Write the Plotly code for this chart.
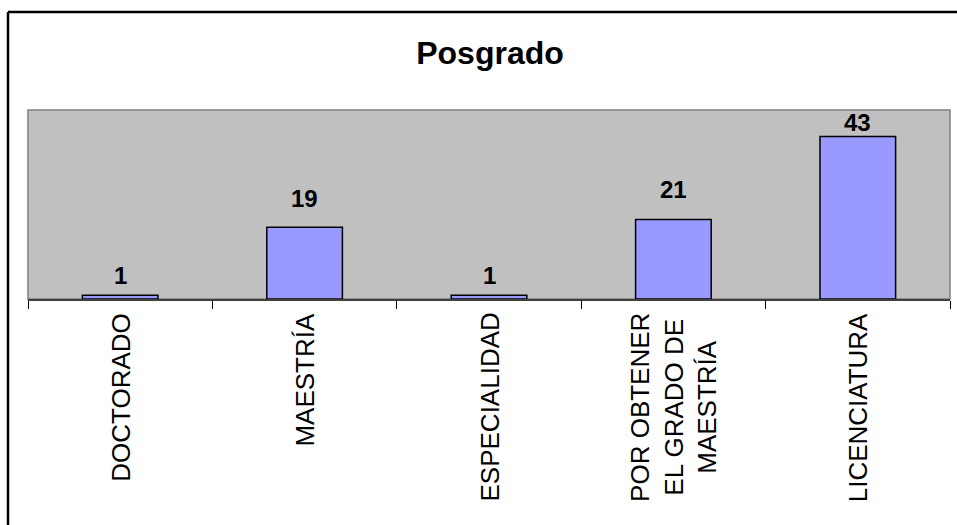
import plotly.graph_objects as go

categories = ["DOCTORADO", "MAESTRÍA", "ESPECIALIDAD",
              "POR OBTENER<br>EL GRADO DE<br>MAESTRÍA", "LICENCIATURA"]
values = [1, 19, 1, 21, 43]
title_text = "Posgrado"
label_shift = [4, 13, 4, 15, -2]   # pixel offsets of value labels above bars

W, H = 957, 525
ML, MR, MT, MB = 28, 7, 110, 226
pw = W - ML - MR
ph = H - MT - MB

def px_x(x):
    return (x - ML) / pw

def px_y(y):
    return (H - MB - y) / ph

FONT = "Liberation Sans, Arial, sans-serif"

fig = go.Figure()
fig.add_trace(go.Bar(
    x=categories, y=values,
    marker=dict(color="#9999FF", line=dict(color="black", width=1.5)),
    width=0.41,
))

annotations = [
    dict(x=c, xref="x", y=px_y(311), yref="paper", text=c, showarrow=False,
         textangle=-90, xanchor="center", yanchor="top", align="center",
         font=dict(family=FONT, size=26, color="black"))
    for c in categories
]
annotations += [
    dict(x=c, xref="x", y=v, yref="y", text="<b>%d</b>" % v, showarrow=False,
         xanchor="center", yanchor="bottom", yshift=s,
         font=dict(family=FONT, size=24, color="black"))
    for c, v, s in zip(categories, values, label_shift)
]

fig.update_layout(
    width=W, height=H,
    margin=dict(l=ML, r=MR, t=MT, b=MB),
    paper_bgcolor="white",
    plot_bgcolor="#C0C0C0",
    showlegend=False,
    font=dict(family=FONT, color="black"),
    title=dict(text="<b>" + title_text + "</b>", x=px_x(490), xref="paper", xanchor="center",
               y=1 - 53 / H, yref="container", yanchor="middle",
               font=dict(size=32, color="black")),
    xaxis=dict(
        tickson="boundaries", ticks="outside", ticklen=8,
        tickcolor="black", tickwidth=1, showgrid=False, showticklabels=False,
        showline=True, linecolor="#404040", linewidth=1.5, fixedrange=True,
    ),
    yaxis=dict(range=[0, 50], showticklabels=False, showgrid=False, zeroline=False,
               ticks="", showline=False, fixedrange=True),
    annotations=annotations,
    shapes=[
        dict(type="rect", xref="paper", yref="paper", x0=0, x1=1, y0=0, y1=1,
             line=dict(color="#808080", width=1.5), layer="below"),
        dict(type="line", xref="paper", yref="paper", x0=px_x(8), x1=px_x(965),
             y0=px_y(12), y1=px_y(12), line=dict(color="black", width=2.5)),
        dict(type="line", xref="paper", yref="paper", x0=px_x(8), x1=px_x(8),
             y0=px_y(12), y1=px_y(535), line=dict(color="black", width=2.5)),
    ],
)

fig.write_html("out.html", config={"displayModeBar": False},
               post_script="document.body.style.margin='0';document.body.style.padding='0';")
